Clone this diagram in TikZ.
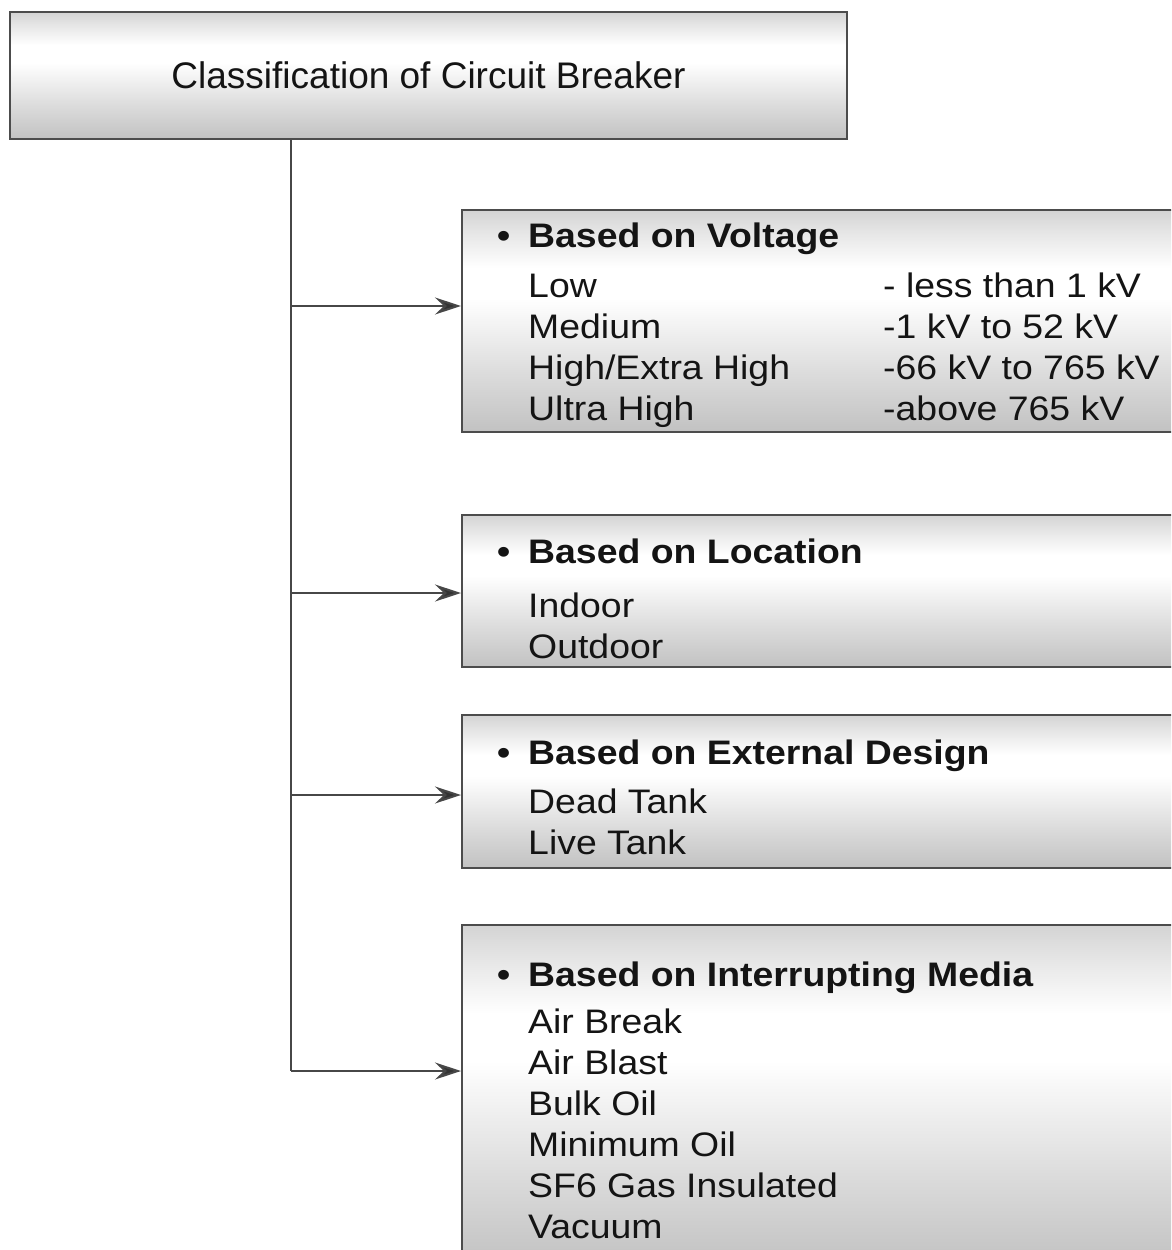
\documentclass[tikz,border=0pt]{standalone}
\usepackage{fontspec}
\setmainfont{Liberation Sans}
\newfontfamily\boxfont[FakeStretch=1.1]{Liberation Sans}
\usetikzlibrary{arrows.meta}
\pgfdeclareverticalshading{cylshade}{100bp}{color(0bp)=(black!24); color(25bp)=(black!24); color(38bp)=(black!14); color(55bp)=(white); color(62bp)=(white); color(70bp)=(black!10); color(75bp)=(black!17); color(100bp)=(black!17)}
\begin{document}
\begin{tikzpicture}[x=1pt,y=-1pt,
  shadebox/.style={draw=black!70, line width=2pt, rectangle, inner sep=0pt,
    shading=cylshade},
  conn/.style={draw=black!72, line width=2pt},
  arr/.style={conn, -{Stealth[length=26pt,width=17pt,inset=9pt,fill=black!80]}},
  txt/.style={anchor=base west, inner sep=0pt, text=black!92,
    font=\boxfont\fontsize{34}{41}\selectfont},
  head/.style={txt, font=\boxfont\bfseries\fontsize{34}{41}\selectfont},
]
\clip (0,0) rectangle (1171,1250);
\useasboundingbox (0,0) rectangle (1171,1250);

% title box
\node[shadebox, minimum width=837pt, minimum height=127pt, text=black!92,
  font=\fontsize{37}{44}\selectfont] (top) at (428.5,75.5) {Classification of Circuit Breaker};

% category boxes
\node[shadebox, minimum width=723pt, minimum height=222pt] (b1) at (823.5,321) {};
\node[shadebox, minimum width=723pt, minimum height=152pt] (b2) at (823.5,591) {};
\node[shadebox, minimum width=723pt, minimum height=153pt] (b3) at (823.5,791.5) {};
\node[shadebox, minimum width=723pt, minimum height=340pt] (b4) at (823.5,1095) {};

% connectors
\coordinate (j1) at (291,306);
\coordinate (j2) at (291,593);
\coordinate (j3) at (291,795);
\coordinate (j4) at (291,1071);
\draw[conn] (top.south -| j4) -- (j4);
\draw[arr] (j1) -- (b1.west |- j1);
\draw[arr] (j2) -- (b2.west |- j2);
\draw[arr] (j3) -- (b3.west |- j3);
\draw[arr] (j4) -- (b4.west |- j4);

% box 1 text
\node[head] (h1) at (497,247) {\makebox[31pt][l]{\textbullet}Based on Voltage};
\node[txt] (v1) at (528,297) {Low};
\node[txt] (v2) at (528,338) {Medium};
\node[txt] (v3) at (528,379) {High/Extra High};
\node[txt] (v4) at (528,420) {Ultra High};
\node[txt] (r1) at (883,297) {- less than 1 kV};
\node[txt] (r2) at (883,338) {-1 kV to 52 kV};
\node[txt] (r3) at (883,379) {-66 kV to 765 kV};
\node[txt] (r4) at (883,420) {-above 765 kV};

% box 2 text
\node[head] (h2) at (497,563) {\makebox[31pt][l]{\textbullet}Based on Location};
\node[txt] (l1) at (528,617) {Indoor};
\node[txt] (l2) at (528,658) {Outdoor};

% box 3 text
\node[head] (h3) at (497,764) {\makebox[31pt][l]{\textbullet}Based on External Design};
\node[txt] (d1) at (528,813) {Dead Tank};
\node[txt] (d2) at (528,854) {Live Tank};

% box 4 text
\node[head] (h4) at (497,986) {\makebox[31pt][l]{\textbullet}Based on Interrupting Media};
\node[txt] (m1) at (528,1033) {Air Break};
\node[txt] (m2) at (528,1074) {Air Blast};
\node[txt] (m3) at (528,1115) {Bulk Oil};
\node[txt] (m4) at (528,1156) {Minimum Oil};
\node[txt] (m5) at (528,1197) {SF6 Gas Insulated};
\node[txt] (m6) at (528,1238) {Vacuum};
\end{tikzpicture}
\end{document}
